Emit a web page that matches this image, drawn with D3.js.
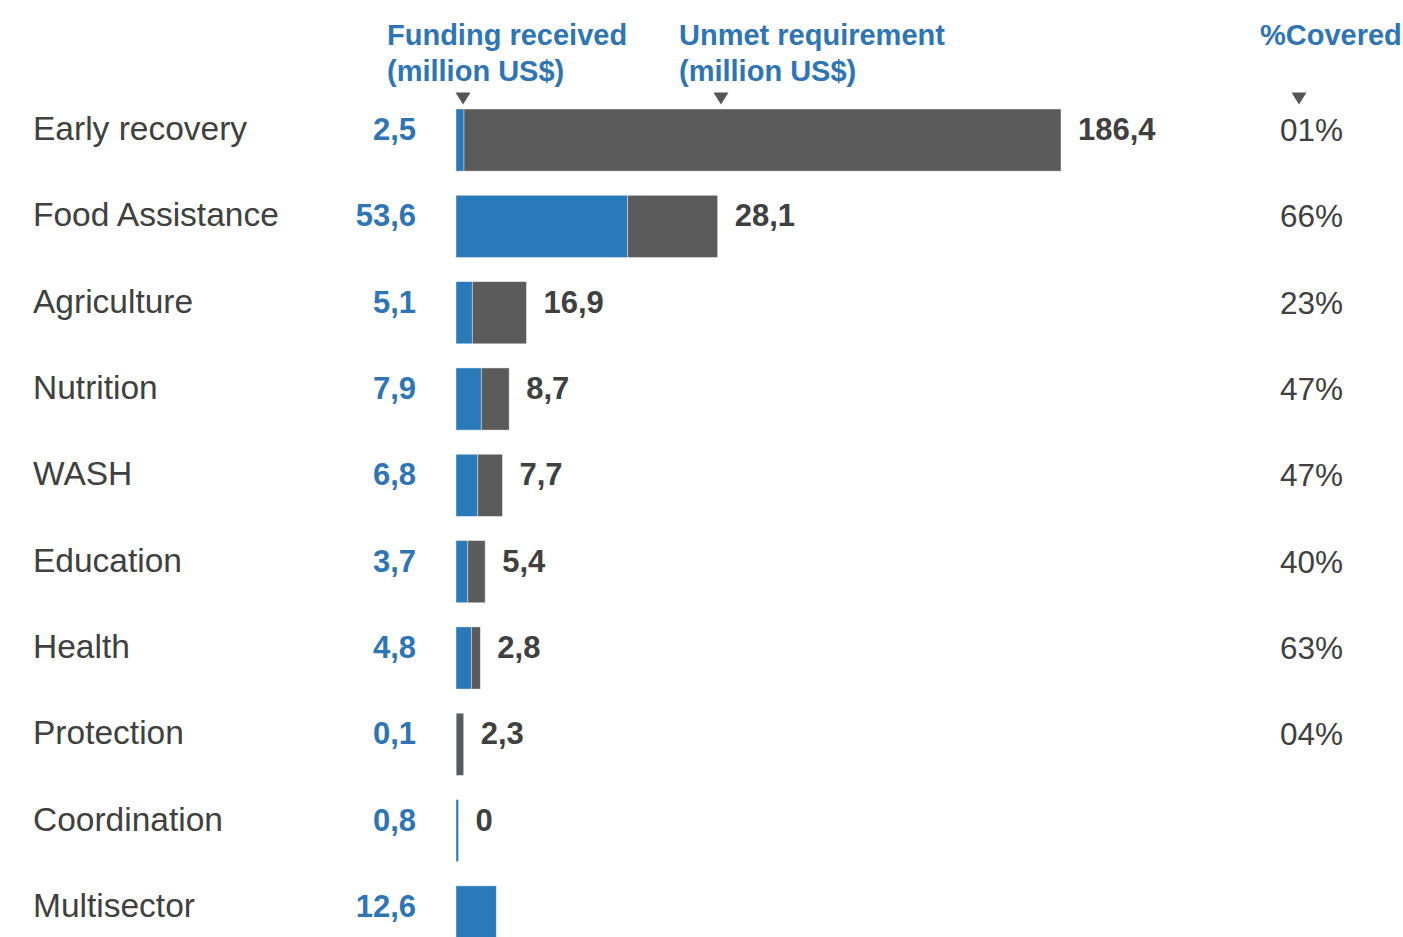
<!DOCTYPE html>
<html><head><meta charset="utf-8">
<script src="https://cdn.jsdelivr.net/npm/d3@7"></script>
<style>html,body{margin:0;padding:0;background:#fff;overflow:hidden}</style>
</head><body>
<svg id="chart" width="1403" height="937"></svg>
<script>
const categories = ["Early recovery","Food Assistance","Agriculture","Nutrition","WASH","Education","Health","Protection","Coordination","Multisector"];
const funding = [2.5,53.6,5.1,7.9,6.8,3.7,4.8,0.1,0.8,12.6];
const unmet = [186.4,28.1,16.9,8.7,7.7,5.4,2.8,2.3,0,null];
const covered = ["01%","66%","23%","47%","47%","40%","63%","04%",null,null];
const headers = [
  {lines:["Funding received","(million US$)"], col:"funding"},
  {lines:["Unmet requirement","(million US$)"], col:"unmet"},
  {lines:["%Covered"], col:"covered"}
];

const fmt = v => String(v).replace(".", ",");
const BLUE = "#2a79b9", GREY = "#5b5b5b", TXT = "#404040", HBLUE = "#2e75b6";
const svg = d3.select("#chart");
const font = "Liberation Sans, Arial, Helvetica, sans-serif";

const x = d3.scaleLinear().domain([0, 188.9]).range([456, 1061]);
const y = d3.scaleBand().domain(categories).range([109, 948]).paddingInner(0.28).paddingOuter(0);
const bw = y.bandwidth();

const rows = categories.map((c,i)=>({c, f:funding[i], u:unmet[i], p:covered[i]}));

// bars
const g = svg.append("g");
g.selectAll("rect.f").data(rows).join("rect")
  .attr("x", x(0)).attr("y", d=>y(d.c))
  .attr("width", d=>Math.max(x(d.f)-x(0), 1.6)).attr("height", bw)
  .attr("fill", BLUE).attr("stroke","#ffffff").attr("stroke-opacity",0.5).attr("stroke-width",0.8);
g.selectAll("rect.u").data(rows.filter(d=>d.u)).join("rect")
  .attr("x", d=>x(d.f)).attr("y", d=>y(d.c))
  .attr("width", d=>x(d.f+d.u)-x(d.f)).attr("height", bw)
  .attr("fill", GREY).attr("stroke","#ffffff").attr("stroke-opacity",0.5).attr("stroke-width",0.8);

// category labels
svg.selectAll("text.cat").data(rows).join("text")
  .attr("x", 33).attr("y", d=>y(d.c)+bw/2)
  .attr("font-family", font).attr("font-size", 33.5).attr("fill", TXT)
  .text(d=>d.c);

// funding values
svg.selectAll("text.fv").data(rows).join("text")
  .attr("x", 416).attr("y", d=>y(d.c)+bw/2)
  .attr("text-anchor","end")
  .attr("font-family", font).attr("font-size", 31).attr("font-weight","bold").attr("fill", HBLUE)
  .text(d=>fmt(d.f));

// unmet values
svg.selectAll("text.uv").data(rows.filter(d=>d.u!==null)).join("text")
  .attr("x", d=>x(d.f+d.u)+17).attr("y", d=>y(d.c)+bw/2)
  .attr("font-family", font).attr("font-size", 31).attr("font-weight","bold").attr("fill", TXT)
  .text(d=>fmt(d.u));

// percent covered
svg.selectAll("text.pc").data(rows.filter(d=>d.p)).join("text")
  .attr("x", 1343).attr("y", d=>y(d.c)+bw/2+1)
  .attr("text-anchor","end")
  .attr("font-family", font).attr("font-size", 31.5).attr("fill", TXT)
  .text(d=>d.p);

// headers
const hx = {funding:387, unmet:679, covered:1260};
const tx = {funding:463, unmet:721, covered:1299};
headers.forEach(h=>{
  const t = svg.append("text").attr("font-family", font).attr("font-size", 29)
    .attr("font-weight","bold").attr("fill", HBLUE);
  h.lines.forEach((l,i)=>{
    t.append("tspan").attr("x", hx[h.col]).attr("y", 45 + i*36).text(l);
  });
  const cx = tx[h.col];
  svg.append("path").attr("d", `M${cx-7.5},92.5 L${cx+7.5},92.5 L${cx},104.5 Z`).attr("fill","#555555");
});
</script>
</body></html>
